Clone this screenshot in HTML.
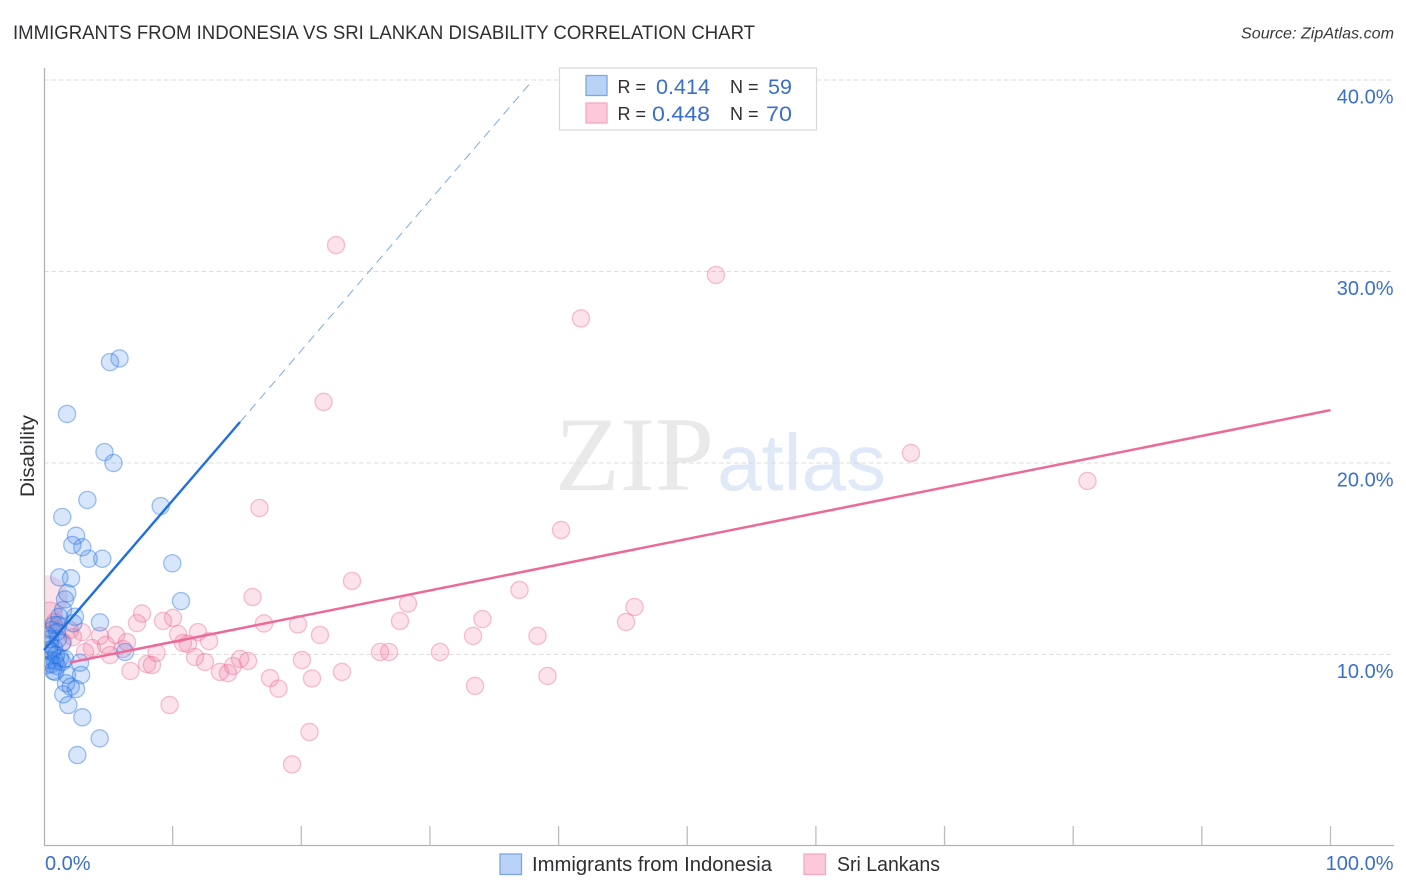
<!DOCTYPE html>
<html lang="en">
<head>
<meta charset="utf-8">
<title>Immigrants from Indonesia vs Sri Lankan Disability Correlation Chart</title>
<style>
  html, body { margin: 0; padding: 0; background: #fff; }
  body { width: 1406px; height: 892px; overflow: hidden; }
  svg { display: block; font-family: "Liberation Sans", sans-serif; }
  text { font-family: "Liberation Sans", sans-serif; }
</style>
</head>
<body>
<svg id="chart" xmlns="http://www.w3.org/2000/svg" width="1406" height="892" viewBox="0 0 1406 892">
  <defs>
    <clipPath id="plot-clip"><rect x="45" y="60" width="1350" height="785"></rect></clipPath>
  </defs>
  <rect x="0" y="0" width="1406" height="892" fill="#ffffff"></rect>

  <text x="13" y="39" font-size="19" fill="#2f2f33" textLength="742" lengthAdjust="spacingAndGlyphs">IMMIGRANTS FROM INDONESIA VS SRI LANKAN DISABILITY CORRELATION CHART</text>
  <text x="1394" y="38.500" font-size="16" font-style="italic" fill="#3a3a3e" text-anchor="end" textLength="153" lengthAdjust="spacingAndGlyphs">Source: ZipAtlas.com</text>

  <g>
    <text x="555" y="490" font-size="106" fill="#e9e9e9" style="font-family:'Liberation Serif',serif">ZIP</text>
    <text x="717" y="490" font-size="80" fill="#dfe9f7">atlas</text>
  </g>

  <g id="grid"></g>
  <g id="axes"></g>
  <g id="points" clip-path="url(#plot-clip)"></g>
  <g id="trends"></g>
  <g id="labels"></g>

  <text transform="translate(34,456) rotate(-90)" font-size="19" fill="#2f2f33" text-anchor="middle" textLength="82" lengthAdjust="spacingAndGlyphs">Disability</text>

  <g>
    <rect x="559.5" y="68" width="257" height="62" fill="#ffffff" stroke="#d9d9d9" stroke-width="1.2"></rect>
    <rect x="586" y="75.500" width="21" height="20" fill="#b9d3f7" stroke="#7aa7e4" stroke-width="1.3"></rect>
    <rect x="586" y="103" width="21" height="20" fill="#fcc8da" stroke="#f2a9c1" stroke-width="1.3"></rect>
    <text x="617.500" y="93" font-size="18" fill="#2f2f33">R =</text>
    <text x="656" y="94" font-size="21.500" fill="#3a6fcb" textLength="54" lengthAdjust="spacingAndGlyphs">0.414</text>
    <text x="730" y="93" font-size="18" fill="#2f2f33">N =</text>
    <text x="768" y="94" font-size="21.500" fill="#3a6fcb">59</text>
    <text x="617.500" y="120" font-size="18" fill="#2f2f33">R =</text>
    <text x="652" y="121" font-size="21.500" fill="#3a6fcb" textLength="58" lengthAdjust="spacingAndGlyphs">0.448</text>
    <text x="730" y="120" font-size="18" fill="#2f2f33">N =</text>
    <text x="766" y="121" font-size="21.500" fill="#3a6fcb" textLength="26" lengthAdjust="spacingAndGlyphs">70</text>
  </g>

  <g>
    <rect x="500" y="854" width="21.500" height="20.500" fill="#b9d3f7" stroke="#7aa7e4" stroke-width="1.3"></rect>
    <text x="532" y="871" font-size="20" fill="#2f2f33" textLength="240" lengthAdjust="spacingAndGlyphs">Immigrants from Indonesia</text>
    <rect x="804" y="854" width="21.500" height="20.500" fill="#fcc8da" stroke="#f2a9c1" stroke-width="1.3"></rect>
    <text x="837" y="871" font-size="20" fill="#2f2f33" textLength="103" lengthAdjust="spacingAndGlyphs">Sri Lankans</text>
  </g>
</svg>

<script>
const yTickValues = [10, 20, 30, 40];
const yTickLabels = ["10.0%", "20.0%", "30.0%", "40.0%"];
const xTickValues = [0, 10, 20, 30, 40, 50, 60, 70, 80, 90, 100];
const xEndValues = [0, 100];
const xEndLabels = ["0.0%", "100.0%"];

const indonesiaX = [5.87,5.13,1.79,4.70,5.40,3.37,9.07,1.42,2.49,2.20,2.98,3.47,4.53,9.97,1.19,2.10,1.81,10.65,1.63,1.48,4.35,1.19,2.41,2.28,1.11,0.62,1.01,0.31,1.40,0.47,0.78,6.30,0.62,1.24,1.63,0.47,0.86,2.80,0.62,0.23,1.40,1.01,0.86,0.70,2.88,1.79,1.71,2.08,2.49,1.50,1.89,2.98,4.33,2.59,0.39,0.93,1.09,0.47,0.78];
const indonesiaY = [25.46,25.27,22.56,20.57,20.00,18.07,17.75,17.18,16.20,15.72,15.60,15.00,15.00,14.76,14.03,13.98,13.20,12.79,12.88,12.32,11.68,11.97,11.97,11.63,11.54,11.28,11.17,10.97,10.60,10.50,10.34,10.13,10.13,9.82,9.77,9.71,9.66,9.57,9.50,9.45,9.61,9.40,9.09,9.14,8.93,8.93,8.50,8.32,8.20,7.92,7.36,6.72,5.62,4.75,10.23,9.97,10.81,10.81,11.54];

const sriLankanX = [22.70,52.23,41.74,21.73,67.39,81.11,16.75,40.19,23.94,36.96,16.21,28.29,45.90,7.62,34.08,45.24,27.67,19.74,17.10,9.25,10.03,7.23,21.45,33.35,38.36,10.42,11.97,12.83,10.80,11.19,26.12,26.82,30.78,8.74,20.05,15.24,15.86,11.74,12.51,14.69,8.01,8.39,6.72,23.16,13.68,14.30,20.83,17.57,39.14,18.23,33.50,9.76,20.64,19.28,5.60,6.45,4.35,4.82,3.73,3.19,2.95,2.25,1.48,5.13,6.14,2.02,0.15,0.45,0.62,0.85];
const sriLankanY = [31.38,29.82,27.55,23.19,20.52,19.06,17.65,16.50,13.84,13.37,13.00,12.66,12.48,12.14,11.85,11.70,11.75,11.57,11.62,11.75,11.91,11.64,11.02,10.97,10.97,11.07,11.17,10.70,10.60,10.55,10.13,10.13,10.13,10.08,9.71,9.77,9.66,9.87,9.61,9.40,9.50,9.45,9.14,9.09,9.09,9.03,8.75,8.77,8.88,8.22,8.36,7.36,5.95,4.26,11.02,10.65,10.97,10.50,10.34,10.13,11.17,10.91,10.65,9.97,10.29,11.28,13.00,12.10,11.40,11.65];
const sriLankanWeight = [1,1,1,1,1,1,1,1,1,1,1,1,1,1,1,1,1,1,1,1,1,1,1,1,1,1,1,1,1,1,1,1,1,1,1,1,1,1,1,1,1,1,1,1,1,1,1,1,1,1,1,1,1,1,1,1,1,1,1,1,1,1,1,1,1,1,6.5,2,1.2,1.2];

const indonesiaTrendSolidX = [0, 15.24];
const indonesiaTrendSolidY = [10.23, 22.14];
const indonesiaTrendDashX = [15.24, 37.8];
const indonesiaTrendDashY = [22.14, 39.84];
const sriLankanTrendX = [2, 100];
const sriLankanTrendY = [9.58, 22.76];

const xScale = v => 44 + v * 12.865;
const yScale = v => 846 - v * 19.15;
const NS = "http://www.w3.org/2000/svg";
function mk(parent, tag, attrs) {
  const el = document.createElementNS(NS, tag);
  for (const k in attrs) el.setAttribute(k, attrs[k]);
  parent.appendChild(el);
  return el;
}
const grid = document.getElementById("grid");
const axes = document.getElementById("axes");
const points = document.getElementById("points");
const trends = document.getElementById("trends");
const labels = document.getElementById("labels");

yTickValues.forEach((v, i) => {
  const line = mk(grid, "line", { x1: 44, x2: 1394, y1: yScale(v), y2: yScale(v), stroke: "#dddddd", "stroke-width": 1, "stroke-dasharray": "4.500 3" });
  
  
  const t = mk(labels, "text", { x: 1393.5, y: yScale(v) + 23.5, "font-size": 20, fill: "#3a6fcb", "text-anchor": "end" });
  t.textContent = yTickLabels[i];
  
  
});

const yAxis = mk(axes, "line", { x1: 44.500, x2: 44.500, y1: 68, y2: 846, stroke: "#b3b3b3", "stroke-width": 1.300 });


const xAxis = mk(axes, "line", { x1: 44, x2: 1394, y1: 845.5, y2: 845.5, stroke: "#b3b3b3", "stroke-width": 1.300 });


xTickValues.slice(1).forEach(v => {
  const tick = mk(axes, "line", { x1: xScale(v), x2: xScale(v), y1: 826, y2: 845, stroke: "#bdbdbd", "stroke-width": 1.300 });
  
  
});
xEndValues.forEach((v, i) => {
  const t = mk(labels, "text", { x: i === 0 ? xScale(v) + 1 : 1393.5, y: 870, "font-size": 20, fill: "#3a6fcb", "text-anchor": i === 0 ? "start" : "end" });
  t.textContent = xEndLabels[i];
  
  
});

sriLankanX.forEach((x, i) => {
  const c = mk(points, "circle", { cx: xScale(x), cy: yScale(sriLankanY[i]), r: 8.6 * Math.sqrt(sriLankanWeight[i]), fill: "rgba(240,110,150,0.2)", stroke: "rgba(236,110,155,0.42)", "stroke-width": sriLankanWeight[i] > 3 ? 0 : 1.3 });
  
  
});
indonesiaX.forEach((x, i) => {
  const c = mk(points, "circle", { cx: xScale(x), cy: yScale(indonesiaY[i]), r: 8.6, fill: "rgba(60,130,235,0.2)", stroke: "rgba(30,110,225,0.42)", "stroke-width": 1.3 });
  
  
});

const blueSolid = mk(trends, "line", { x1: xScale(indonesiaTrendSolidX[0]), y1: yScale(indonesiaTrendSolidY[0]), x2: xScale(indonesiaTrendSolidX[1]), y2: yScale(indonesiaTrendSolidY[1]), stroke: "#1f6fdc", "stroke-width": 2.4 });


const blueDash = mk(trends, "line", { x1: xScale(indonesiaTrendDashX[0]), y1: yScale(indonesiaTrendDashY[0]), x2: xScale(indonesiaTrendDashX[1]), y2: yScale(indonesiaTrendDashY[1]), stroke: "#7ea9e6", "stroke-width": 1, "stroke-dasharray": "9 6" });


const pinkLine = mk(trends, "line", { x1: xScale(sriLankanTrendX[0]), y1: yScale(sriLankanTrendY[0]), x2: xScale(sriLankanTrendX[1]), y2: yScale(sriLankanTrendY[1]), stroke: "#ec6a99", "stroke-width": 2.5 });


</script>
</body>
</html>
